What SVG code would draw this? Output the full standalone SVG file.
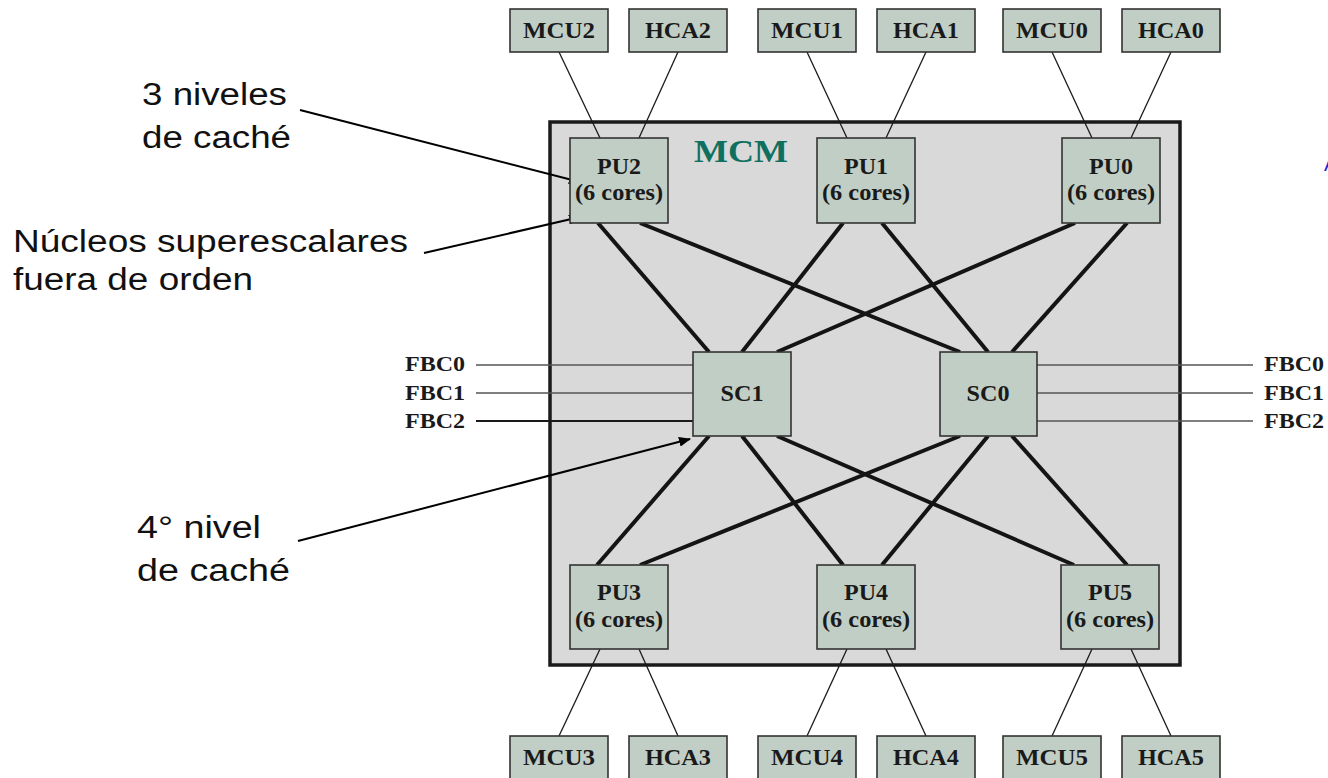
<svg xmlns="http://www.w3.org/2000/svg" width="1328" height="778" viewBox="0 0 1328 778">
  <style>
    .box { fill: #c1cec5; stroke: #333; stroke-width: 1.6; }
    .mcm { fill: #d9d9d9; stroke: #1a1a1a; stroke-width: 3.5; }
    .lbl { font-family: "Liberation Serif", "Times New Roman", serif; font-weight: bold; font-size: 23px; fill: #1a1a1a; text-anchor: middle; }
    .fbc { font-family: "Liberation Serif", "Times New Roman", serif; font-weight: bold; font-size: 20px; fill: #1a1a1a; }
    .note { font-family: "Liberation Sans", Arial, sans-serif; font-size: 31px; fill: #111; }
    .thin { stroke: #1a1a1a; stroke-width: 1.3; fill: none; }
    .bus { stroke: #555; stroke-width: 1.6; fill: none; }
    .thick { stroke: #141414; stroke-width: 4; fill: none; }
    .ptr { stroke: #000; stroke-width: 2; fill: none; marker-end: url(#arr); }
  </style>
  <defs>
    <marker id="arr" viewBox="0 0 12 10" refX="11" refY="5" markerWidth="12" markerHeight="10" markerUnits="userSpaceOnUse" orient="auto">
      <path d="M0,0 L12,5 L0,10 Z" fill="#000"/>
    </marker>
  </defs>

  <rect width="1328" height="778" fill="#fff"/>

  <!-- multi-chip module outline -->
  <g id="MCM">
    <rect class="mcm" x="550" y="122" width="630" height="543"/>
    <text x="741" y="162" text-anchor="middle" textLength="94" lengthAdjust="spacingAndGlyphs" style="font-family:'Liberation Serif','Times New Roman',serif;font-weight:bold;font-size:31px;fill:#10705f">MCM</text>
  </g>

  <!-- connectors -->
  <g id="connectors">
    <!-- memory / host channel links -->
    <line class="thin" x1="559" y1="52" x2="600" y2="138"/>
    <line class="thin" x1="678" y1="52" x2="639" y2="138"/>
    <line class="thin" x1="807" y1="52" x2="847" y2="138"/>
    <line class="thin" x1="926" y1="52" x2="886" y2="138"/>
    <line class="thin" x1="1052" y1="52" x2="1092" y2="138"/>
    <line class="thin" x1="1171" y1="52" x2="1131" y2="138"/>
    <line class="thin" x1="559" y1="736" x2="600" y2="649"/>
    <line class="thin" x1="678" y1="736" x2="639" y2="649"/>
    <line class="thin" x1="807" y1="736" x2="847" y2="649"/>
    <line class="thin" x1="926" y1="736" x2="886" y2="649"/>
    <line class="thin" x1="1052" y1="736" x2="1092" y2="649"/>
    <line class="thin" x1="1171" y1="736" x2="1131" y2="649"/>

    <!-- PU to SC fabric -->
    <line class="thick" x1="598" y1="223" x2="709" y2="352"/>
    <line class="thick" x1="640" y1="223" x2="960" y2="352"/>
    <line class="thick" x1="843" y1="223" x2="742" y2="352"/>
    <line class="thick" x1="882" y1="223" x2="988" y2="352"/>
    <line class="thick" x1="1075" y1="223" x2="777" y2="352"/>
    <line class="thick" x1="1127" y1="223" x2="1012" y2="352"/>
    <line class="thick" x1="597" y1="565" x2="709" y2="436"/>
    <line class="thick" x1="640" y1="565" x2="960" y2="436"/>
    <line class="thick" x1="843" y1="565" x2="742" y2="436"/>
    <line class="thick" x1="882" y1="565" x2="988" y2="436"/>
    <line class="thick" x1="1074" y1="565" x2="777" y2="436"/>
    <line class="thick" x1="1127" y1="565" x2="1012" y2="436"/>

    <!-- fabric book connections -->
    <line class="bus" x1="476" y1="365" x2="693" y2="365"/>
    <line class="bus" x1="476" y1="393" x2="693" y2="393"/>
    <line class="thin" x1="476" y1="421" x2="693" y2="421" style="stroke-width:1.8"/>
    <line class="bus" x1="1037" y1="365" x2="1253" y2="365"/>
    <line class="bus" x1="1037" y1="393" x2="1253" y2="393"/>
    <line class="bus" x1="1037" y1="421" x2="1253" y2="421"/>

    <!-- annotation pointers -->
    <line class="ptr" x1="300" y1="110" x2="580" y2="182"/>
    <line class="ptr" x1="424" y1="253" x2="580" y2="217"/>
    <line class="ptr" x1="298" y1="541" x2="690" y2="439"/>
  </g>

  <!-- top row: memory controllers and host channel adapters -->
  <g id="MCU2"><rect class="box" x="510" y="9" width="98" height="43"/><text class="lbl" x="559" y="38" textLength="72" lengthAdjust="spacingAndGlyphs">MCU2</text></g>
  <g id="HCA2"><rect class="box" x="629" y="9" width="98" height="43"/><text class="lbl" x="678" y="38" textLength="66" lengthAdjust="spacingAndGlyphs">HCA2</text></g>
  <g id="MCU1"><rect class="box" x="758" y="9" width="98" height="43"/><text class="lbl" x="807" y="38" textLength="72" lengthAdjust="spacingAndGlyphs">MCU1</text></g>
  <g id="HCA1"><rect class="box" x="877" y="9" width="98" height="43"/><text class="lbl" x="926" y="38" textLength="66" lengthAdjust="spacingAndGlyphs">HCA1</text></g>
  <g id="MCU0"><rect class="box" x="1003" y="9" width="98" height="43"/><text class="lbl" x="1052" y="38" textLength="72" lengthAdjust="spacingAndGlyphs">MCU0</text></g>
  <g id="HCA0"><rect class="box" x="1122" y="9" width="98" height="43"/><text class="lbl" x="1171" y="38" textLength="66" lengthAdjust="spacingAndGlyphs">HCA0</text></g>

  <!-- bottom row -->
  <g id="MCU3"><rect class="box" x="510" y="736" width="98" height="43"/><text class="lbl" x="559" y="765" textLength="72" lengthAdjust="spacingAndGlyphs">MCU3</text></g>
  <g id="HCA3"><rect class="box" x="629" y="736" width="98" height="43"/><text class="lbl" x="678" y="765" textLength="66" lengthAdjust="spacingAndGlyphs">HCA3</text></g>
  <g id="MCU4"><rect class="box" x="758" y="736" width="98" height="43"/><text class="lbl" x="807" y="765" textLength="72" lengthAdjust="spacingAndGlyphs">MCU4</text></g>
  <g id="HCA4"><rect class="box" x="877" y="736" width="98" height="43"/><text class="lbl" x="926" y="765" textLength="66" lengthAdjust="spacingAndGlyphs">HCA4</text></g>
  <g id="MCU5"><rect class="box" x="1003" y="736" width="98" height="43"/><text class="lbl" x="1052" y="765" textLength="72" lengthAdjust="spacingAndGlyphs">MCU5</text></g>
  <g id="HCA5"><rect class="box" x="1122" y="736" width="98" height="43"/><text class="lbl" x="1171" y="765" textLength="66" lengthAdjust="spacingAndGlyphs">HCA5</text></g>

  <!-- processor units -->
  <g id="PU2"><rect class="box" x="570" y="138" width="98" height="85"/><text class="lbl" x="619" y="174" textLength="44" lengthAdjust="spacingAndGlyphs">PU2</text><text class="lbl" x="619" y="200" textLength="88" lengthAdjust="spacingAndGlyphs">(6 cores)</text></g>
  <g id="PU1"><rect class="box" x="817" y="138" width="98" height="85"/><text class="lbl" x="866" y="174" textLength="44" lengthAdjust="spacingAndGlyphs">PU1</text><text class="lbl" x="866" y="200" textLength="88" lengthAdjust="spacingAndGlyphs">(6 cores)</text></g>
  <g id="PU0"><rect class="box" x="1062" y="138" width="98" height="85"/><text class="lbl" x="1111" y="174" textLength="44" lengthAdjust="spacingAndGlyphs">PU0</text><text class="lbl" x="1111" y="200" textLength="88" lengthAdjust="spacingAndGlyphs">(6 cores)</text></g>
  <g id="PU3"><rect class="box" x="570" y="565" width="98" height="84"/><text class="lbl" x="619" y="600" textLength="44" lengthAdjust="spacingAndGlyphs">PU3</text><text class="lbl" x="619" y="627" textLength="88" lengthAdjust="spacingAndGlyphs">(6 cores)</text></g>
  <g id="PU4"><rect class="box" x="817" y="565" width="98" height="84"/><text class="lbl" x="866" y="600" textLength="44" lengthAdjust="spacingAndGlyphs">PU4</text><text class="lbl" x="866" y="627" textLength="88" lengthAdjust="spacingAndGlyphs">(6 cores)</text></g>
  <g id="PU5"><rect class="box" x="1061" y="565" width="98" height="84"/><text class="lbl" x="1110" y="600" textLength="44" lengthAdjust="spacingAndGlyphs">PU5</text><text class="lbl" x="1110" y="627" textLength="88" lengthAdjust="spacingAndGlyphs">(6 cores)</text></g>

  <!-- storage controllers -->
  <g id="SC1"><rect class="box" x="693" y="352" width="98" height="84"/><text class="lbl" x="742" y="401" textLength="43" lengthAdjust="spacingAndGlyphs">SC1</text></g>
  <g id="SC0"><rect class="box" x="940" y="352" width="97" height="84"/><text class="lbl" x="988" y="401" textLength="43" lengthAdjust="spacingAndGlyphs">SC0</text></g>

  <!-- fabric bus labels -->
  <g id="FBC-left">
    <text class="fbc" x="405" y="371" textLength="60" lengthAdjust="spacingAndGlyphs">FBC0</text>
    <text class="fbc" x="405" y="400" textLength="60" lengthAdjust="spacingAndGlyphs">FBC1</text>
    <text class="fbc" x="405" y="428" textLength="60" lengthAdjust="spacingAndGlyphs">FBC2</text>
  </g>
  <g id="FBC-right">
    <text class="fbc" x="1264" y="371" textLength="60" lengthAdjust="spacingAndGlyphs">FBC0</text>
    <text class="fbc" x="1264" y="400" textLength="60" lengthAdjust="spacingAndGlyphs">FBC1</text>
    <text class="fbc" x="1264" y="428" textLength="60" lengthAdjust="spacingAndGlyphs">FBC2</text>
  </g>

  <!-- side notes -->
  <g id="note-cache3">
    <text class="note" x="142" y="105" textLength="145" lengthAdjust="spacingAndGlyphs">3 niveles</text>
    <text class="note" x="142" y="148" textLength="149" lengthAdjust="spacingAndGlyphs">de caché</text>
  </g>
  <g id="note-cores">
    <text class="note" x="13" y="252" textLength="395" lengthAdjust="spacingAndGlyphs">Núcleos superescalares</text>
    <text class="note" x="13" y="290" textLength="240" lengthAdjust="spacingAndGlyphs">fuera de orden</text>
  </g>
  <g id="note-cache4">
    <text class="note" x="137" y="538" textLength="124" lengthAdjust="spacingAndGlyphs">4° nivel</text>
    <text class="note" x="137" y="581" textLength="153" lengthAdjust="spacingAndGlyphs">de caché</text>
  </g>

  <text x="1324" y="171" style="font-family:'Liberation Sans',Arial,sans-serif;font-size:20px;fill:#1f2bd6">A</text>
</svg>
